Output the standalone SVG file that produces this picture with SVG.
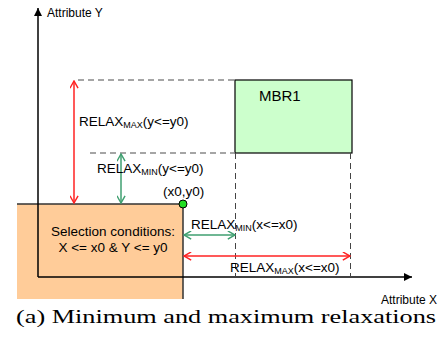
<svg xmlns="http://www.w3.org/2000/svg" width="443" height="337" viewBox="0 0 443 337">
<style>
.lbl{font-family:"Liberation Sans",Arial,sans-serif;font-size:13.5px;fill:#000}
.sub{font-size:9px}
.ax{stroke:#000;stroke-width:1.5;fill:none}
.dg{stroke:#888;stroke-width:1.5;stroke-dasharray:6,4;fill:none}
.dk{stroke:#444;stroke-width:1;stroke-dasharray:6,4;fill:none}
.red{stroke:#ff2222;stroke-width:1.5;fill:none}
.grn{stroke:#3f9f70;stroke-width:1.5;fill:none}
</style>
<defs>
<marker id="ah" viewBox="0 0 10 10" refX="10" refY="5" markerWidth="8" markerHeight="8" markerUnits="userSpaceOnUse" orient="auto"><path d="M0,0 L10,5 L0,10 z" fill="#000"/></marker>
<marker id="rv" viewBox="0 0 10 10" refX="9" refY="5" markerWidth="9" markerHeight="9" markerUnits="userSpaceOnUse" orient="auto-start-reverse"><path d="M1,0.5 L9,5 L1,9.5" fill="none" stroke="#ff2222" stroke-width="1.6"/></marker>
<marker id="gv" viewBox="0 0 10 10" refX="9" refY="5" markerWidth="9" markerHeight="9" markerUnits="userSpaceOnUse" orient="auto-start-reverse"><path d="M1,0.5 L9,5 L1,9.5" fill="none" stroke="#3f9f70" stroke-width="1.6"/></marker>
</defs>
<g id="selection">
<rect x="17" y="204" width="166" height="95" fill="#ffcc99"/>
<path d="M17,204 H183 V299" stroke="#333" stroke-width="1.5" fill="none"/>
<text class="lbl" x="113" y="236" text-anchor="middle">Selection conditions:</text>
<text class="lbl" x="113" y="252" text-anchor="middle">X &lt;= x0 &amp; Y &lt;= y0</text>
</g>
<g id="axes">
<line class="ax" x1="38" y1="277" x2="38" y2="8" marker-end="url(#ah)"/>
<line class="ax" x1="38" y1="277" x2="412" y2="277" marker-end="url(#ah)"/>
<text class="lbl" x="47" y="17" style="font-size:12px">Attribute Y</text>
<text class="lbl" x="437" y="304" text-anchor="end" style="font-size:12px">Attribute X</text>
</g>
<g id="mbr1">
<rect x="235" y="80" width="117" height="73" fill="#ccffcc" stroke="#000" stroke-width="1.2"/>
<text class="lbl" x="259" y="101" style="font-size:15px">MBR1</text>
</g>
<g id="connectors">
<line class="dg" x1="78" y1="80" x2="235" y2="80"/>
<line class="dg" x1="90" y1="153" x2="235" y2="153"/>
<line class="dk" x1="235.5" y1="153" x2="235.5" y2="277"/>
<line class="dk" x1="350.5" y1="153" x2="350.5" y2="277"/>
<line class="red" x1="74" y1="81" x2="74" y2="203" marker-start="url(#rv)" marker-end="url(#rv)"/>
<line class="grn" x1="121" y1="154" x2="121" y2="203" marker-start="url(#gv)" marker-end="url(#gv)"/>
<line class="grn" x1="184" y1="235" x2="235" y2="235" marker-start="url(#gv)" marker-end="url(#gv)"/>
<line class="red" x1="184" y1="256" x2="350" y2="256" marker-start="url(#rv)" marker-end="url(#rv)"/>
</g>
<g id="labels">
<text class="lbl" x="79" y="126">RELAX<tspan class="sub" dy="2">MAX</tspan><tspan dy="-2">(y&lt;=y0)</tspan></text>
<text class="lbl" x="97" y="173">RELAX<tspan class="sub" dy="2">MIN</tspan><tspan dy="-2">(y&lt;=y0)</tspan></text>
<text class="lbl" x="163" y="196">(x0,y0)</text>
<text class="lbl" x="191" y="229">RELAX<tspan class="sub" dy="2">MIN</tspan><tspan dy="-2">(x&lt;=x0)</tspan></text>
<text class="lbl" x="230" y="272">RELAX<tspan class="sub" dy="2">MAX</tspan><tspan dy="-2">(x&lt;=x0)</tspan></text>
</g>
<g id="point">
<circle cx="183" cy="204" r="4" fill="#22dd22" stroke="#000" stroke-width="1"/>
</g>
<text x="16" y="323" font-family="'Liberation Serif','DejaVu Serif',serif" font-size="19" fill="#000" textLength="420" lengthAdjust="spacingAndGlyphs">(a) Minimum and maximum relaxations</text>
</svg>
